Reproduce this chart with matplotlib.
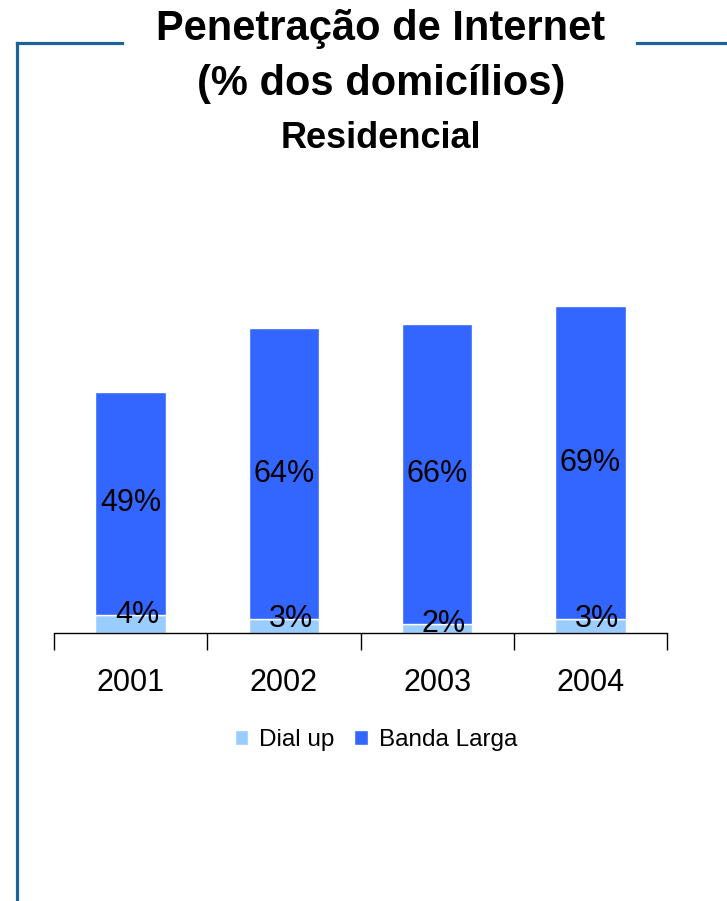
import matplotlib
matplotlib.use("Agg")
import matplotlib.pyplot as plt
from matplotlib.lines import Line2D
import numpy as np

anos = ["2001", "2002", "2003", "2004"]
dial_up = [4, 3, 2, 3]
banda_larga = [49, 64, 66, 69]
series_nomes = ["Dial up", "Banda Larga"]

cor_dial = "#99ccff"
cor_banda = "#3366ff"
cor_moldura = "#1b639a"

plt.rcParams["font.family"] = "Liberation Sans"

fig = plt.figure(figsize=(7.27, 9.01), dpi=100)

# moldura azul (canto superior esquerdo e linha direita)
fig.add_artist(Line2D([17 / 727, 17 / 727], [0, 1 - 43 / 901], color=cor_moldura, lw=2.3))
fig.add_artist(Line2D([17 / 727, 122 / 727], [1 - 43 / 901, 1 - 43 / 901], color=cor_moldura, lw=2.3))
fig.add_artist(Line2D([637 / 727, 1], [1 - 43 / 901, 1 - 43 / 901], color=cor_moldura, lw=2.3))

fig.text(381 / 727, 1 - 29 / 901, "Penetração de Internet", ha="center", va="center",
         fontsize=30, fontweight="bold")
fig.text(381 / 727, 1 - 84 / 901, "(% dos domicílios)", ha="center", va="center",
         fontsize=30, fontweight="bold")
fig.text(381 / 727, 1 - 138 / 901, "Residencial", ha="center", va="center",
         fontsize=26, fontweight="bold")

ax = fig.add_axes([54 / 727, (901 - 633) / 901, 613 / 727, 450 / 901])
x = np.arange(len(anos))
largura = 0.46
b1 = ax.bar(x, dial_up, largura, color=cor_dial, edgecolor="white", linewidth=1, label=series_nomes[0])
b2 = ax.bar(x, banda_larga, largura, bottom=dial_up, color=cor_banda, edgecolor="white",
            linewidth=1, label=series_nomes[1])

for i in range(len(anos)):
    ax.text(x[i] + 0.045, dial_up[i], f"{dial_up[i]}%", ha="center", va="center", fontsize=22)
    ax.text(x[i], dial_up[i] + banda_larga[i] / 2, f"{banda_larga[i]}%", ha="center",
            va="center", fontsize=22)

ax.set_xlim(-0.5, len(anos) - 0.5)
ax.set_ylim(0, 99)
for s in ["top", "right", "left"]:
    ax.spines[s].set_visible(False)
ax.spines["bottom"].set_linewidth(1)
ax.set_yticks([])
ax.set_xticks(np.arange(len(anos) + 1) - 0.5)
ax.set_xticklabels([])
ax.set_xticks(x, minor=True)
ax.set_xticklabels(anos, minor=True, fontsize=22)
ax.tick_params(axis="x", which="major", length=12, width=1, direction="out")
ax.tick_params(axis="x", which="minor", length=0, pad=25)

fig.legend(handles=[b1, b2], loc="center", bbox_to_anchor=(376 / 727, 1 - 740 / 901), ncol=2,
           frameon=False, fontsize=17.5, handlelength=0.55, handleheight=0.55, handletextpad=0.45,
           columnspacing=0.8)

fig.savefig("out.png", dpi=100)
